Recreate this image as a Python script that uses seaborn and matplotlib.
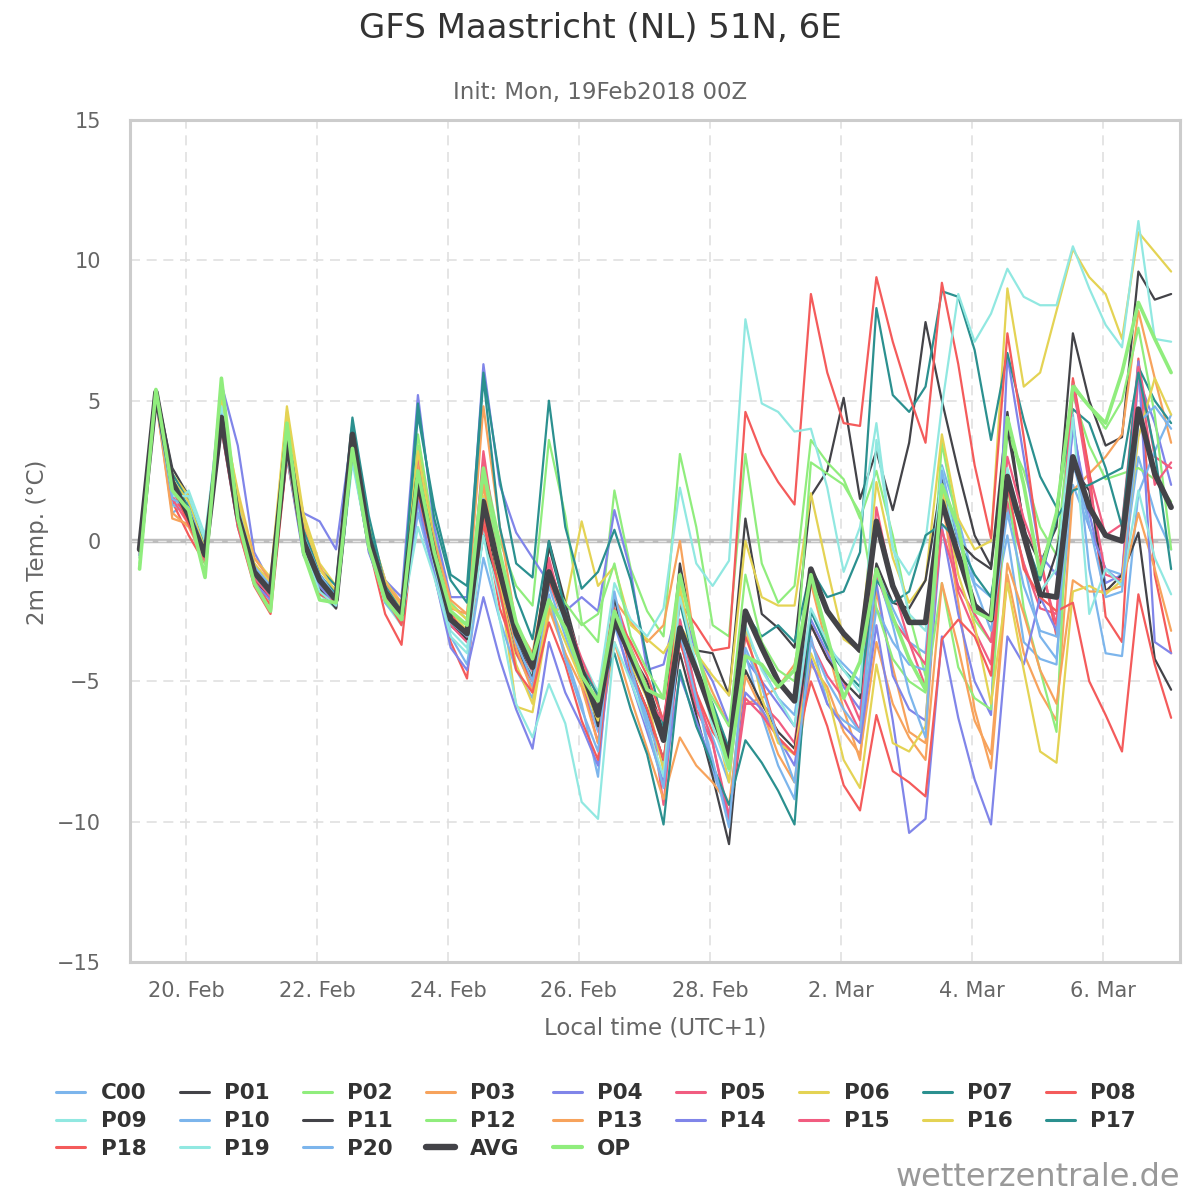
import pandas as pd
import seaborn as sns
import matplotlib.pyplot as plt
from matplotlib.lines import Line2D

# =======================================
# 1. DATA (2m temperature, 6-hourly, local time UTC+1)
# =======================================
start_time = "2018-02-19 07:00"
n_steps = 64

members = ["C00", "P01", "P02", "P03", "P04", "P05", "P06", "P07", "P08", "P09",
           "P10", "P11", "P12", "P13", "P14", "P15", "P16", "P17", "P18", "P19", "P20"]

C00 = [-0.4, 5.2, 1.0, 1.4, -0.2, 4.6, 1.0, -1.0, -1.6, 3.4, 0.1, -1.3, -2.0, 3.2, 0.0, -2.0, -2.8, 1.6, -0.8, -3.0,
       -3.6, 0.5, -1.8, -4.0, -5.2, -1.6, -3.4, -5.0, -6.8, -3.0, -4.8, -6.2, -8.0, -3.5, -5.8, -7.0, -8.6, -3.2, -4.5, -5.6,
       -6.2, -2.5, -3.8, -4.4, -5.0, -1.0, -2.4, -3.6, -4.0, 2.7, 0.8, -1.5, -2.0, 1.2, -0.8, -3.4, -4.2, 2.0, 0.5, -1.0, -1.2, 3.0, 1.0, -0.3]
P01 = [-0.2, 5.4, 2.6, 1.6, -0.3, 4.2, 0.6, -1.4, -2.0, 3.3, -0.2, -1.7, -2.4, 3.0, -0.3, -2.1, -2.9, 2.0, -0.8, -3.0,
       -3.5, 1.0, -1.5, -3.6, -4.8, -0.2, -2.4, -4.4, -6.0, -2.5, -4.0, -5.0, -6.8, -0.8, -3.9, -4.0, -5.5, 0.8, -2.6, -3.1,
       -3.8, 1.6, 2.5, 5.1, 1.5, 3.2, 1.1, 3.5, 7.8, 5.0, 2.5, 0.2, -0.9, 4.6, 0.4, -0.8, 0.5, 7.4, 5.0, 3.4, 3.7, 9.6, 8.6, 8.8]
P02 = [-0.8, 5.0, 1.8, 1.2, -0.8, 5.2, 1.2, -0.8, -2.2, 3.8, 0.3, -1.2, -2.0, 3.4, 0.3, -1.6, -2.4, 3.8, 0.2, -2.2,
       -2.8, 2.8, 0.0, -1.6, -2.3, 3.6, 0.9, -2.9, -3.6, 1.8, -1.0, -2.5, -3.4, 3.1, 0.5, -3.0, -3.4, 3.1, -0.8, -2.2,
       -1.6, 3.6, 2.8, 2.2, 0.8, 2.5, 0.2, -2.6, -4.8, 3.5, 0.4, -2.8, -3.6, 3.8, 2.5, 0.5, -0.5, 5.2, 3.4, 2.2, 2.4, 2.6, 2.2, 1.4]
P03 = [-0.5, 5.1, 0.8, 0.6, -0.6, 4.8, 1.4, -0.8, -1.5, 4.0, 0.4, -1.0, -1.8, 4.0, 0.5, -1.4, -2.2, 3.0, -0.2, -2.4,
       -2.6, 4.8, 0.5, -3.0, -4.0, -0.8, -3.0, -4.4, -5.5, -2.1, -2.9, -3.6, -3.0, 0.0, -4.0, -5.4, -6.6, -5.8, -5.6, -5.2,
       -4.4, -1.5, -3.8, -6.0, -7.8, -1.8, -4.5, -6.8, -7.2, 1.5, -2.2, -6.0, -8.1, -1.2, -4.0, -5.4, -6.4, 1.8, 2.4, 3.0, 3.8, 8.2, 5.8, 3.5]
P04 = [-0.3, 5.2, 2.0, 1.2, -0.4, 5.6, 3.4, -0.4, -1.5, 3.8, 1.0, 0.7, -0.3, 4.0, 0.5, -1.4, -2.0, 5.2, 0.5, -2.0,
       -2.0, 6.3, 2.0, 0.3, -0.6, -1.5, -2.5, -2.0, -2.5, 1.1, -1.1, -4.6, -4.4, -2.0, -4.0, -5.0, -6.5, -4.2, -5.0, -5.8,
       -6.6, -2.8, -4.0, -5.2, -6.0, -1.5, -4.8, -6.0, -6.4, 0.5, -2.6, -5.0, -6.2, 6.6, 3.0, -0.5, -1.2, 4.0, 1.0, -1.5, -1.2, 5.8, 4.2, 2.0]
P05 = [-0.4, 5.0, 1.6, 0.8, -0.6, 4.2, 0.8, -1.2, -1.9, 3.4, -0.1, -1.5, -2.2, 3.6, 0.0, -1.9, -2.7, 2.6, -0.6, -3.0,
       -3.6, 3.2, -0.8, -3.2, -4.8, -0.6, -2.9, -5.0, -7.2, -2.0, -3.8, -5.2, -9.4, -3.4, -6.0, -7.2, -10.0, -5.8, -5.8, -6.4,
       -7.2, -3.0, -4.2, -5.0, -6.4, -1.2, -2.8, -3.6, -5.2, 0.4, -1.6, -2.6, -3.6, 1.4, -0.8, -2.4, -2.6, 5.7, 2.4, 0.2, 0.6, 6.4, 3.0, 2.6]
P06 = [-0.5, 5.0, 2.4, 1.6, -0.2, 4.6, 1.8, -0.6, -1.3, 4.8, 1.0, -0.8, -1.6, 4.0, 0.6, -1.4, -2.3, 3.4, 0.0, -2.3,
       -2.8, 2.0, -1.5, -5.9, -6.1, -2.6, -2.3, 0.7, -1.6, -0.9, -3.0, -3.5, -4.0, -3.0, -4.0, -4.8, -5.5, 0.0, -2.0, -2.3,
       -2.3, 1.7, -1.0, -3.5, -3.9, 2.1, -0.6, -2.2, -1.4, 3.8, 0.8, -0.3, 0.0, 9.0, 5.5, 6.0, 8.2, 10.4, 9.4, 8.8, 7.2, 11.0, 10.3, 9.6]
P07 = [-0.2, 5.4, 2.4, 1.4, -0.2, 4.6, 0.9, -1.3, -1.8, 3.9, 0.6, -1.0, -1.6, 4.4, 0.9, -1.6, -2.6, 4.5, 1.2, -1.2,
       -1.6, 6.0, 2.2, -0.8, -1.3, 5.0, 0.5, -1.7, -1.1, 0.4, -1.4, -4.2, -6.6, -2.2, -4.6, -5.8, -7.4, -2.6, -3.4, -3.0,
       -3.6, -1.0, -2.0, -1.8, -0.4, 8.3, 5.2, 4.6, 5.5, 8.9, 8.7, 6.8, 3.6, 6.7, 4.3, 2.3, 1.2, 4.7, 4.2, 2.6, 0.5, 6.2, 5.0, 4.2]
P08 = [-0.4, 5.1, 1.4, 0.2, -0.8, 4.3, 0.6, -1.4, -2.3, 3.2, -0.4, -1.8, -2.4, 3.2, -0.2, -2.6, -3.7, 1.8, -1.2, -3.6,
       -4.9, 1.0, -2.4, -4.0, -5.0, -1.4, -3.0, -4.6, -6.0, -2.6, -3.6, -4.8, -6.4, -2.2, -3.0, -3.9, -3.8, 4.6, 3.1, 2.1,
       1.3, 8.8, 6.0, 4.2, 4.1, 9.4, 7.1, 5.2, 3.5, 9.2, 6.3, 2.7, 0.1, 7.4, 3.7, -0.5, -3.4, 5.8, 2.5, -2.7, -3.6, 6.5, -1.2, -4.0]
P09 = [-0.6, 5.3, 1.2, 1.8, 0.2, 5.0, 1.0, -1.2, -1.9, 3.0, -0.4, -1.9, -2.4, 2.8, -0.2, -2.2, -3.0, 1.2, -1.0, -3.2,
       -3.8, 0.3, -2.0, -3.8, -4.8, -1.0, -3.2, -4.2, -5.4, -1.5, -2.8, -3.4, -2.4, 1.9, -0.8, -1.6, -0.7, 7.9, 4.9, 4.6,
       3.9, 4.0, 1.9, -1.1, 0.5, 4.2, -0.3, -1.2, 0.0, 4.8, 8.8, 7.1, 8.1, 9.7, 8.7, 8.4, 8.4, 10.5, 9.0, 7.7, 6.9, 11.4, 7.2, 7.1]
P10 = [-0.4, 5.1, 1.3, 1.0, -0.4, 4.4, 0.7, -1.2, -1.8, 3.2, -0.1, -1.5, -2.1, 3.0, -0.1, -2.2, -2.9, 1.0, -1.2, -3.4,
       -4.4, -0.6, -2.8, -4.6, -5.6, -2.2, -4.0, -5.8, -8.4, -2.0, -4.4, -6.4, -8.0, -2.8, -5.4, -8.2, -9.8, -4.0, -6.2, -8.0,
       -9.2, -3.4, -5.8, -6.4, -6.8, -2.4, -3.6, -4.4, -4.6, 2.2, -0.6, -2.4, -2.8, 0.2, -3.6, -4.2, -4.4, 4.5, -1.0, -4.0, -4.1, 1.7, 3.2, 4.5]
P11 = [-0.3, 5.2, 1.9, 1.0, -0.6, 4.3, 0.7, -1.2, -2.1, 3.4, -0.1, -1.7, -2.4, 3.6, 0.0, -1.9, -2.7, 2.0, -0.6, -2.8,
       -3.5, 0.2, -1.6, -3.8, -4.9, 0.0, -2.2, -4.4, -6.6, -2.0, -4.6, -6.0, -7.8, -4.0, -6.2, -8.4, -10.8, -4.6, -5.8, -6.8,
       -7.4, -3.0, -4.2, -5.0, -5.6, -0.8, -2.2, -2.4, -1.4, 2.2, 0.0, -0.6, -1.0, 4.0, 0.6, -2.2, -0.4, 2.6, 1.8, -1.8, -1.2, 0.3, -4.2, -5.3]
P12 = [-0.6, 5.2, 2.0, 1.0, -0.8, 5.4, 1.0, -1.0, -2.0, 3.9, -0.2, -1.6, -2.2, 3.9, 0.2, -1.8, -2.6, 3.4, -0.3, -2.6,
       -3.0, 2.2, -1.0, -3.2, -4.2, -1.2, -2.2, -3.0, -2.6, -0.8, -3.4, -4.6, -5.6, -1.8, -4.6, -5.6, -6.6, -1.2, -3.6, -4.6,
       -5.0, 2.8, 2.4, 2.0, 1.0, -2.4, -4.2, -5.0, -5.4, -1.5, -4.5, -5.6, -6.0, 2.0, -2.4, -4.6, -6.8, 5.6, 4.8, 4.0, 5.0, 7.6, 4.5, -0.3]
P13 = [-0.4, 5.0, 1.0, 0.5, -0.7, 4.5, 1.6, -0.6, -1.4, 3.8, 0.6, -0.9, -1.9, 3.9, 0.3, -1.5, -2.3, 2.8, 0.0, -2.1,
       -2.6, 2.0, -1.4, -3.8, -5.4, -2.4, -4.0, -5.2, -7.2, -3.6, -5.6, -7.4, -9.2, -7.0, -8.0, -8.6, -9.4, -4.8, -6.0, -7.6,
       -8.6, -4.4, -5.2, -6.8, -7.6, -3.6, -5.8, -7.0, -7.8, -1.5, -3.8, -6.4, -7.6, -0.8, -2.6, -4.6, -5.8, -1.4, -1.8, -1.8, -1.6, 1.0, -1.0, -3.2]
P14 = [-0.3, 5.1, 1.8, 0.8, -0.5, 4.0, 0.5, -1.5, -2.1, 3.0, -0.5, -1.6, -2.3, 3.4, -0.4, -2.0, -2.8, 1.4, -1.2, -3.8,
       -4.6, -2.0, -4.2, -6.0, -7.4, -3.6, -5.4, -6.6, -8.0, -2.8, -5.0, -6.8, -8.6, -4.8, -6.4, -8.0, -9.8, -5.4, -6.0, -7.0,
       -8.0, -4.2, -5.8, -6.6, -7.2, -3.0, -6.4, -10.4, -9.9, -3.4, -6.3, -8.5, -10.1, -3.4, -4.4, -2.0, -3.2, 4.2, 0.5, -1.0, -1.5, 6.4, -3.6, -4.0]
P15 = [-0.5, 5.2, 1.5, 0.6, -0.7, 4.3, 0.7, -1.3, -2.0, 3.5, 0.1, -1.4, -2.2, 3.5, 0.0, -1.9, -2.8, 3.1, -0.2, -2.6,
       -3.4, 2.8, -0.6, -3.0, -4.4, -0.8, -2.6, -4.2, -5.6, -2.8, -4.0, -5.6, -6.4, -2.8, -5.4, -7.2, -9.8, -5.6, -6.2, -7.0,
       -7.6, -3.6, -4.8, -5.6, -6.8, 1.2, -1.6, -3.6, -4.4, 2.0, -1.8, -3.2, -4.4, 3.0, 0.8, -0.8, -3.0, 5.6, 2.0, -1.2, -1.4, 6.2, 2.0, 2.8]
P16 = [-0.4, 5.3, 2.2, 1.4, -0.3, 5.0, 1.6, -0.8, -1.5, 4.6, 0.8, -1.0, -1.8, 3.8, 0.4, -1.6, -2.4, 3.2, -0.2, -2.5,
       -3.2, 1.6, -1.6, -4.4, -5.8, -2.2, -3.6, -5.0, -6.4, -2.6, -4.4, -5.6, -8.2, -1.6, -4.6, -6.0, -8.6, -3.0, -5.6, -7.2,
       -7.6, -4.0, -5.4, -7.8, -8.8, -4.4, -7.2, -7.5, -6.6, 2.0, -1.2, -3.0, -5.8, -1.5, -4.6, -7.5, -7.9, -1.8, -1.6, -1.9, -1.4, 3.7, 5.8, 4.5]
P17 = [-0.3, 5.3, 2.2, 1.2, -0.5, 4.5, 0.8, -1.2, -1.9, 3.6, 0.4, -1.2, -1.9, 4.2, 0.5, -1.6, -2.5, 4.9, 0.8, -1.4,
       -2.2, 5.8, 0.5, -2.0, -3.5, 0.0, -2.5, -4.5, -5.5, -4.0, -6.0, -7.6, -10.1, -4.6, -6.6, -8.0, -9.4, -7.1, -7.9, -8.9,
       -10.1, -2.5, -3.8, -4.6, -5.2, -1.4, -2.2, -1.8, 0.2, 0.6, 0.0, -1.2, -2.0, 1.8, 0.2, -1.4, 0.8, 1.8, 2.0, 2.3, 2.6, 6.0, 3.2, -1.0]
P18 = [-0.3, 5.2, 1.9, 0.6, -0.6, 4.0, 0.5, -1.6, -2.6, 3.0, -0.3, -1.9, -2.2, 3.3, 0.0, -2.0, -3.0, 2.4, -0.4, -2.6,
       -3.4, 0.6, -1.8, -4.6, -5.4, -2.9, -4.4, -6.4, -7.8, -2.4, -4.6, -6.0, -7.8, -3.6, -5.4, -6.8, -7.6, -3.4, -5.0, -7.0,
       -7.6, -5.0, -6.6, -8.7, -9.6, -6.2, -8.2, -8.6, -9.1, -3.5, -2.8, -3.4, -4.8, 2.0, -1.0, -2.0, -2.5, -2.2, -5.0, -6.2, -7.5, -1.9, -4.4, -6.3]
P19 = [-0.5, 5.4, 1.6, 1.6, 0.0, 4.8, 1.2, -1.0, -1.7, 3.1, -0.3, -1.8, -2.3, 3.0, -0.2, -2.1, -2.8, 0.5, -1.3, -3.4,
       -4.0, 0.2, -2.8, -5.8, -7.0, -5.1, -6.5, -9.3, -9.9, -3.6, -5.0, -6.6, -8.4, -2.0, -4.4, -6.6, -8.2, -3.0, -4.6, -5.6,
       -6.6, -2.4, -3.6, -4.6, -5.4, 3.6, -0.2, -2.6, -3.2, 2.6, -0.6, -2.2, -2.8, 2.6, 0.2, -1.8, -1.0, 4.4, -2.6, -1.0, -1.6, 1.8, -0.6, -1.9]
P20 = [-0.5, 5.0, 1.5, 1.2, -0.4, 4.5, 1.1, -0.9, -1.6, 3.5, 0.2, -1.2, -2.0, 3.7, 0.2, -1.7, -2.5, 2.3, -0.6, -2.9,
       -3.4, 1.5, -1.2, -3.6, -5.0, -1.9, -4.2, -6.0, -7.5, -1.8, -4.5, -6.6, -8.8, -3.3, -5.6, -7.8, -10.2, -3.8, -5.2, -7.0,
       -8.6, -3.6, -5.0, -6.0, -6.8, -1.0, -3.0, -5.4, -7.0, 2.5, 0.0, -1.6, -3.2, 1.0, -1.6, -3.2, -3.4, 2.8, 0.6, -2.0, -1.8, 4.2, 4.8, 4.0]
AVG = [-0.3, 5.3, 2.1, 0.9, -0.5, 4.4, 0.9, -1.1, -1.8, 3.6, 0.0, -1.4, -2.1, 3.8, 0.1, -1.8, -2.6, 2.2, -0.5, -2.8,
       -3.3, 1.4, -1.1, -3.3, -4.5, -1.1, -2.7, -4.6, -6.2, -2.8, -4.1, -5.4, -7.1, -3.1, -4.6, -6.2, -7.7, -2.5, -3.8, -5.0,
       -5.7, -1.0, -2.5, -3.3, -3.9, 0.7, -1.6, -2.9, -2.9, 1.4, -0.5, -2.3, -2.8, 2.3, 0.2, -1.9, -2.0, 3.0, 1.2, 0.2, 0.0, 4.7, 2.4, 1.2]
OP = [-1.0, 5.4, 1.8, 1.1, -1.3, 5.8, 0.8, -1.5, -2.5, 4.2, -0.4, -2.1, -2.2, 3.3, -0.2, -2.1, -2.8, 2.5, -0.4, -2.5,
      -3.0, 2.6, -0.4, -2.9, -4.2, -2.1, -3.1, -4.8, -5.7, -2.5, -3.9, -5.3, -5.6, -1.2, -3.8, -6.0, -8.1, -4.1, -4.4, -5.2,
      -4.6, -1.2, -3.4, -5.6, -4.3, -1.0, -2.7, -4.2, -5.3, 2.0, 0.5, -2.5, -2.8, 4.4, 2.0, -1.2, 1.0, 5.5, 4.8, 4.2, 6.0, 8.5, 7.2, 6.0]

member_values = [C00, P01, P02, P03, P04, P05, P06, P07, P08, P09,
                 P10, P11, P12, P13, P14, P15, P16, P17, P18, P19, P20]

# Highcharts default colour cycle, repeated over the members
base_colors = ["#7cb5ec", "#434348", "#90ed7d", "#f7a35c", "#8085e9",
               "#f15c80", "#e4d354", "#2b908f", "#f45b5b", "#91e8e1"]
palette = {m: base_colors[i % 10] for i, m in enumerate(members)}

tick_dates = ["2018-02-20", "2018-02-22", "2018-02-24", "2018-02-26",
              "2018-02-28", "2018-03-02", "2018-03-04", "2018-03-06"]
tick_labels = ["20. Feb", "22. Feb", "24. Feb", "26. Feb",
               "28. Feb", "2. Mar", "4. Mar", "6. Mar"]

times = pd.date_range(start_time, periods=n_steps, freq="6h")

# --- long-form table for seaborn ---
rows = []
for name, vals in zip(members, member_values):
    for t, v in zip(times, vals):
        rows.append({"time": t, "temp": v, "member": name})
members_df = pd.DataFrame(rows)
avg_df = pd.DataFrame({"time": times, "temp": AVG})
op_df = pd.DataFrame({"time": times, "temp": OP})

# =======================================
# 2. FIGURE
# =======================================
sns.set_theme(style="white")
plt.rcParams["font.family"] = ["DejaVu Sans"]

fig = plt.figure(figsize=(12, 12), dpi=100)
ax = fig.add_axes([130 / 1200, 1 - 962 / 1200, 1050 / 1200, 842 / 1200])

# zero plot line (grey band with the dashed grid line showing through)
ax.axhline(0, color="#bdbdbd", lw=3.2, zorder=1.2)
ax.axhline(0, color="#e8e8e8", lw=1.0, ls=(0, (6, 4)), zorder=1.3)

sns.lineplot(data=members_df, x="time", y="temp", hue="member", hue_order=members,
             palette=palette, linewidth=1.6, estimator=None, legend=False, ax=ax, zorder=2)
sns.lineplot(data=avg_df, x="time", y="temp", color="#434348", linewidth=4.0,
             estimator=None, legend=False, ax=ax, zorder=3)
sns.lineplot(data=op_df, x="time", y="temp", color="#90ed7d", linewidth=2.6,
             estimator=None, legend=False, ax=ax, zorder=4)

# --- axes styling ---
ax.set_ylim(-15, 15)
ax.set_yticks([-15, -10, -5, 0, 5, 10, 15])
ax.set_xlim(pd.Timestamp("2018-02-19 03:30"), pd.Timestamp("2018-03-07 04:15"))
ax.set_xticks(pd.to_datetime(tick_dates))
ax.set_xticklabels(tick_labels)
ax.set_xlabel("")
ax.set_ylabel("")

ax.grid(True, color="#e0e0e0", lw=1.2, ls=(0, (6, 4)), zorder=1)
ax.set_axisbelow(True)
for spine in ax.spines.values():
    spine.set_color("#cccccc")
    spine.set_linewidth(2.2)
ax.tick_params(axis="both", length=0, labelsize=15, labelcolor="#666666")
ax.tick_params(axis="y", pad=21)
ax.tick_params(axis="x", pad=14)

# --- texts ---
fig.text(0.5, 1 - 28 / 1200, "GFS Maastricht (NL) 51N, 6E", ha="center", va="center",
         fontsize=24.5, color="#333333")
fig.text(0.5, 1 - 92 / 1200, "Init: Mon, 19Feb2018 00Z", ha="center", va="center",
         fontsize=16.5, color="#666666")
fig.text(655 / 1200, 1 - 1028 / 1200, "Local time (UTC+1)", ha="center", va="center",
         fontsize=16.5, color="#666666")
fig.text(38 / 1200, 1 - 542 / 1200, "2m Temp. (°C)", ha="center", va="center",
         rotation=90, fontsize=16.5, color="#666666")
fig.text(1180 / 1200, 1 - 1178 / 1200, "wetterzentrale.de", ha="right", va="center",
         fontsize=23, color="#999999")

# --- legend (row-major like the original, matplotlib fills columns) ---
names = members + ["AVG", "OP"]
colors = [palette[m] for m in members] + ["#434348", "#90ed7d"]
widths = [2.2] * len(members) + [4.6, 3.0]
row_major = [Line2D([0], [0], color=c, lw=w) for c, w in zip(colors, widths)]
ncol = 9
order = []
for j in range(ncol):
    for r in range(3):
        idx = r * ncol + j
        if idx < len(names):
            order.append(idx)
fig.legend([row_major[i] for i in order], [names[i] for i in order],
           ncol=ncol, loc="upper left", bbox_to_anchor=(37 / 1200, 1 - 1064 / 1200),
           frameon=False, handlelength=1.35, handletextpad=0.7, columnspacing=1.55,
           labelspacing=0.36, prop={"size": 15.5, "weight": "bold"}, labelcolor="#333333")

plt.savefig("out.png", dpi=100)
